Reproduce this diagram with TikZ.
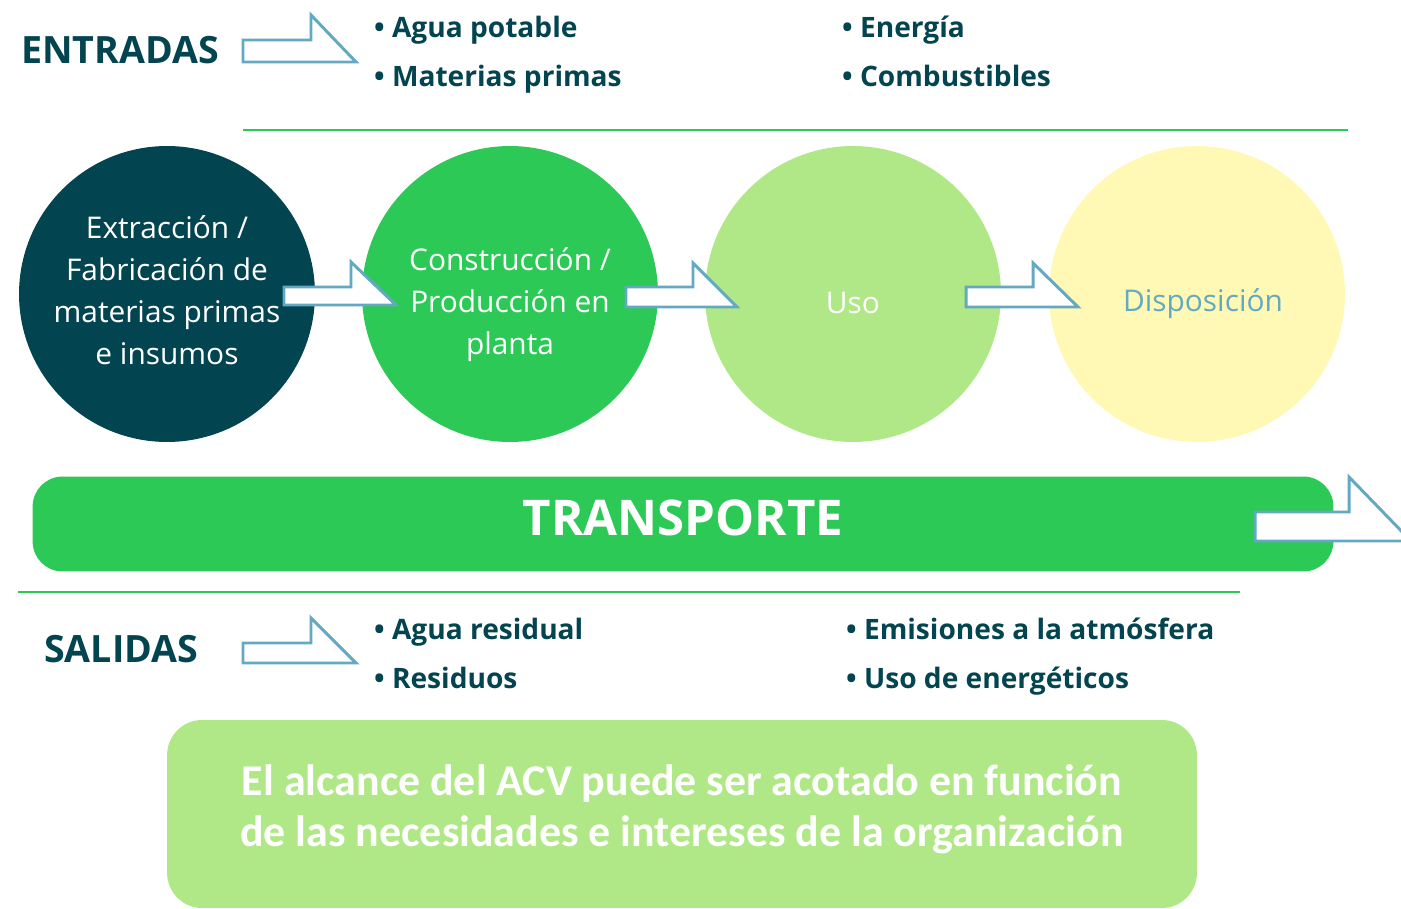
\documentclass[tikz,border=0pt]{standalone}
\usepackage{fontspec}
\setmainfont{Open Sans}
\newfontfamily\boxfont{Carlito}
\usetikzlibrary{positioning}

\definecolor{tealdark}{HTML}{02444F}
\definecolor{leafgreen}{HTML}{2DC957}
\definecolor{lightleaf}{HTML}{B1E887}
\definecolor{paleyellow}{HTML}{FFF9B5}
\definecolor{skyline}{HTML}{64A9C2}

\begin{document}
\begin{tikzpicture}[
    x=0.02cm, y=-0.02cm,
    % Define styles for the stages and labels
    stage/.style={circle, minimum size=5.92cm, inner sep=0pt},
    stagetext/.style={align=center, font=\fontsize{17}{23.8}\selectfont},
    heading/.style={anchor=base west, font=\fontsize{21.4}{24}\selectfont\bfseries, text=tealdark},
    item/.style={anchor=base west, font=\fontsize{16}{20}\selectfont\bfseries, text=tealdark},
    blockarrow/.style={draw=skyline, fill=white, line width=1.7pt, line join=miter},
    greenline/.style={draw=leafgreen, line width=1.6pt},
    band/.style={fill=leafgreen, rounded corners=0.6cm, minimum width=26.02cm, minimum height=1.9cm},
    bandtext/.style={text=white, font=\fontsize{28}{32}\selectfont\bfseries},
    scopebox/.style={fill=lightleaf, rounded corners=0.7cm, minimum width=20.6cm, minimum height=3.76cm},
    scopetext/.style={align=center, text=white, font=\boxfont\fontsize{25}{29}\selectfont\bfseries}
]

\useasboundingbox (0,0) rectangle (1401,909);

% Entradas
\node[heading] (entradas) at (15,64) {ENTRADAS};
\draw[blockarrow] (243,62) -- ++(0,-22) -- ++(68,0) -- ++(0,-25) -- ++(45,47) -- cycle;
\node[item] (agua) at (368,38) {• Agua potable};
\node[item] (materias) at (368,87) {• Materias primas};
\node[item] (energia) at (836,38) {• Energía};
\node[item] (combust) at (836,87) {• Combustibles};

\draw[greenline] (243,130) -- (1348,130);

% Life cycle stages
\node[stage, fill=tealdark] (extraccion) at (167,294) {};
\node[stage, fill=leafgreen] (construccion) at (510,294) {};
\node[stage, fill=lightleaf] (uso) at (853,294) {};
\node[stage, fill=paleyellow] (disposicion) at (1197,294) {};

\node[stagetext, text=white] at ([yshift=0.08cm]extraccion.center) {Extracción /\\Fabricación de\\materias primas\\e insumos};
\node[stagetext, text=white] at ([yshift=-0.21cm]construccion.center) {Construcción /\\Producción en\\planta};
\node[stagetext, text=white] at ([yshift=-0.17cm]uso.center) {Uso};
\node[stagetext, text=skyline] at ([xshift=0.12cm, yshift=-0.2cm]disposicion.center) {Disposición};

% Arrows between the stages
\draw[blockarrow] (284,305) -- ++(0,-18) -- ++(67,0) -- ++(0,-25) -- ++(45,43) -- cycle;
\draw[blockarrow] (626,307) -- ++(0,-20) -- ++(67,0) -- ++(0,-24) -- ++(44,44) -- cycle;
\draw[blockarrow] (966,307) -- ++(0,-20) -- ++(67,0) -- ++(0,-24) -- ++(45,44) -- cycle;

% Transport band
\node[band] (transporte) at (683,524) {};
\node[bandtext] at ([yshift=0.12cm]transporte.center) {TRANSPORTE};
\draw[blockarrow] (1255,541) -- ++(0,-29) -- ++(94,0) -- ++(0,-35) -- ++(62,64) -- cycle;

\draw[greenline] (18,592) -- (1240,592);

% Salidas
\node[heading] (salidas) at (38,662) {SALIDAS};
\draw[blockarrow] (243,663) -- ++(0,-20) -- ++(68,0) -- ++(0,-25) -- ++(45,45) -- cycle;
\node[item] (residual) at (368,639) {• Agua residual};
\node[item] (residuos) at (368,688) {• Residuos};
\node[item] (emisiones) at (840,639) {• Emisiones a la atmósfera};
\node[item] (energeticos) at (840,688) {• Uso de energéticos};

% Note on the scope
\node[scopebox] (alcance) at (682,814) {};
\node[scopetext] at ([yshift=0.1cm]alcance.center) {El alcance del ACV puede ser acotado en función\\de las necesidades e intereses de la organización};

\end{tikzpicture}
\end{document}
